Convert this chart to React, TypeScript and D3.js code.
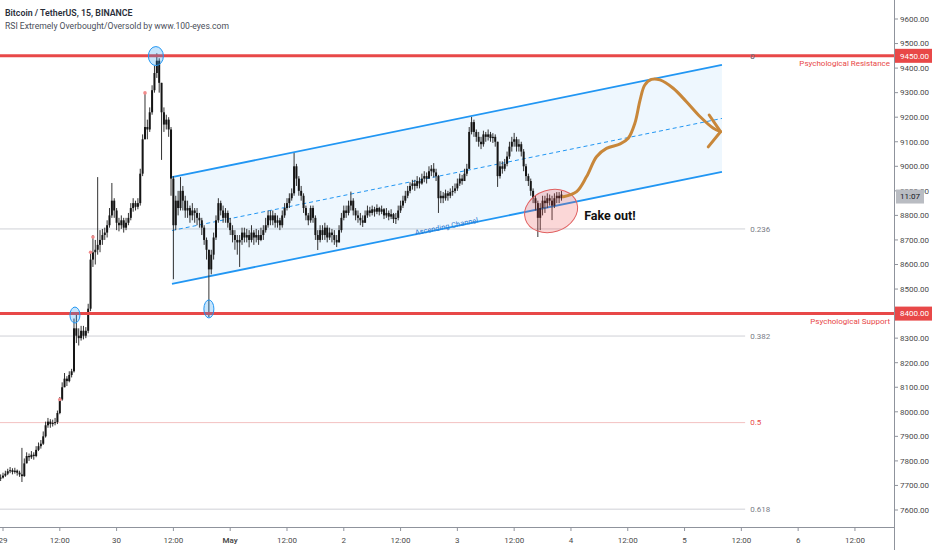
import React from "react";
import * as d3 from "d3";

const title = "Bitcoin / TetherUS, 15, BINANCE";
const subtitle = "RSI Extremely Overbought/Oversold by www.100-eyes.com";

// 30-minute bars, index -1 .. 236, hours measured from Apr 29 00:00
const firstBar = -1;
const barHours = 0.5;
const firstOpen = 7728;
const closes = [
  7732, 7740, 7748, 7758, 7762, 7755, 7760, 7752, 7745, 7738,
  7790, 7820, 7815, 7825, 7820, 7845, 7860, 7870, 7900, 7945,
  7960, 7950, 7955, 7958, 7995, 8050, 8100, 8135, 8125, 8150,
  8165, 8340, 8310, 8300, 8330, 8310, 8330, 8420, 8620, 8650,
  8660, 8680, 8700, 8720, 8730, 8760, 8800, 8860, 8820, 8770,
  8760, 8780, 8750, 8770, 8790, 8830, 8850, 8835, 8850, 8970,
  9110, 9160, 9150, 9220, 9310, 9380, 9430, 9340, 9220, 9170,
  9190, 9150, 8950, 8760, 8860, 8830, 8900, 8860, 8820, 8830,
  8800, 8820, 8810, 8790, 8780, 8750, 8700, 8660, 8580, 8640,
  8710, 8780, 8850, 8820, 8790, 8810, 8770, 8740, 8720, 8700,
  8690, 8700, 8730, 8710, 8720, 8700, 8730, 8710, 8720, 8700,
  8720, 8740, 8760, 8800, 8780, 8800, 8770, 8780, 8760, 8800,
  8830, 8850, 8870, 8890, 9000, 8950, 8900, 8880, 8830, 8800,
  8780, 8830, 8790, 8720, 8700, 8740, 8720, 8750, 8710, 8730,
  8720, 8700, 8690, 8740, 8790, 8820, 8810, 8840, 8860, 8820,
  8800, 8790, 8780, 8770, 8800, 8820, 8810, 8825, 8815, 8830,
  8815, 8825, 8800, 8810, 8795, 8805, 8785, 8790, 8820, 8840,
  8860, 8880, 8900, 8920, 8930, 8920, 8940, 8930, 8950, 8960,
  8950, 8980, 8990, 8975, 8960, 8870, 8880, 8870, 8890, 8880,
  8895, 8900, 8910, 8930, 8950, 8940, 8970, 8990, 9140, 9180,
  9140, 9120, 9100, 9090, 9130, 9120, 9130, 9115, 9120, 9100,
  8960, 9000, 8990, 9010, 9040, 9080, 9100, 9110, 9080, 9090,
  9060, 9000, 8960, 8940, 8900, 8870, 8850, 8790, 8830, 8860,
  8850, 8870, 8860, 8840, 8870, 8880, 8870, 8885,
];
const highs = [
  7745, 7752, 7760, 7768, 7775, 7770, 7772, 7765, 7760, 7853,
  7810, 7835, 7830, 7840, 7835, 7860, 7875, 7885, 7920, 7960,
  7975, 7970, 7968, 7975, 8005, 8060, 8120, 8158, 8145, 8165,
  8175, 8380, 8403, 8340, 8350, 8350, 8345, 8440, 8650, 8720,
  8700, 8956, 8740, 8745, 8750, 8780, 8830, 8932, 8870, 8830,
  8790, 8800, 8790, 8790, 8810, 8850, 8870, 8860, 8870, 8990,
  9130, 9299, 9190, 9240, 9330, 9410, 9460, 9440, 9340, 9240,
  9210, 9200, 9160, 8960, 8880, 8900, 8956, 8920, 8880, 8860,
  8840, 8850, 8830, 8830, 8810, 8790, 8760, 8710, 8660, 8660,
  8730, 8800, 8870, 8860, 8840, 8830, 8820, 8790, 8760, 8740,
  8720, 8720, 8750, 8750, 8745, 8740, 8760, 8740, 8745, 8740,
  8750, 8760, 8790, 8820, 8820, 8820, 8810, 8800, 8790, 8820,
  8850, 8870, 8890, 8910, 9054, 9010, 8960, 8920, 8890, 8840,
  8810, 8840, 8840, 8800, 8740, 8760, 8760, 8770, 8760, 8750,
  8745, 8740, 8720, 8760, 8810, 8840, 8840, 8860, 8897, 8870,
  8830, 8820, 8810, 8800, 8820, 8840, 8835, 8840, 8835, 8845,
  8835, 8840, 8830, 8830, 8820, 8825, 8810, 8810, 8840, 8860,
  8880, 8900, 8920, 8935, 8945, 8945, 8960, 8955, 8970, 8980,
  8975, 9000, 9005, 9013, 8990, 8965, 8900, 8895, 8905, 8900,
  8910, 8920, 8930, 8950, 8970, 8965, 8990, 9010, 9160, 9201,
  9190, 9150, 9140, 9120, 9145, 9140, 9150, 9140, 9135, 9130,
  9100, 9020, 9020, 9030, 9060, 9100, 9120, 9136, 9120, 9110,
  9100, 9070, 9010, 8970, 8950, 8910, 8880, 8860, 8850, 8880,
  8880, 8890, 8885, 8880, 8890, 8895, 8895, 8900,
];
const lows = [
  7718, 7728, 7735, 7742, 7750, 7745, 7748, 7740, 7735, 7714,
  7735, 7795, 7800, 7808, 7805, 7815, 7840, 7850, 7865, 7895,
  7935, 7935, 7940, 7945, 7950, 7990, 8045, 8110, 8105, 8120,
  8140, 8160, 8280, 8270, 8290, 8295, 8300, 8320, 8410, 8590,
  8600, 8640, 8650, 8680, 8700, 8710, 8750, 8790, 8790, 8740,
  8735, 8745, 8730, 8740, 8760, 8780, 8815, 8820, 8825, 8840,
  8960, 9120, 9110, 9140, 9210, 9300, 9360, 9300, 9026, 9140,
  9150, 9120, 8880, 8540, 8740, 8800, 8820, 8820, 8790, 8790,
  8770, 8780, 8770, 8760, 8750, 8720, 8680, 8620, 8386, 8560,
  8620, 8700, 8770, 8800, 8770, 8770, 8750, 8720, 8690, 8660,
  8640, 8590, 8680, 8690, 8690, 8670, 8690, 8680, 8690, 8680,
  8695, 8700, 8730, 8750, 8760, 8760, 8750, 8750, 8740, 8750,
  8790, 8820, 8830, 8860, 8880, 8920, 8880, 8860, 8810, 8780,
  8760, 8770, 8770, 8700, 8659, 8690, 8700, 8700, 8690, 8700,
  8690, 8680, 8671, 8690, 8730, 8780, 8790, 8800, 8820, 8800,
  8780, 8770, 8760, 8753, 8770, 8790, 8795, 8800, 8795, 8805,
  8800, 8805, 8785, 8790, 8780, 8785, 8769, 8765, 8780, 8810,
  8830, 8850, 8870, 8890, 8905, 8900, 8910, 8910, 8925, 8935,
  8930, 8950, 8960, 8955, 8940, 8810, 8850, 8850, 8860, 8860,
  8870, 8880, 8890, 8900, 8920, 8925, 8940, 8960, 8990, 9130,
  9120, 9100, 9080, 9070, 9080, 9100, 9105, 9100, 9095, 9080,
  8916, 8950, 8970, 8980, 9000, 9030, 9060, 9080, 9060, 9060,
  9040, 8980, 8940, 8920, 8880, 8850, 8820, 8712, 8740, 8800,
  8810, 8830, 8840, 8781, 8830, 8850, 8850, 8860,
];

// RSI extreme markers
const markerBars = [24, 37, 38, 60];
const markerPrices = [8050, 8650, 8712, 9299];

// axes
const priceTicks = d3.range(7600, 9601, 100);
const timeTickHours = [0, 12, 24, 36, 48, 60, 72, 84, 96, 108, 120, 132, 144, 156, 168, 180];
const timeTickLabels = ["29", "12:00", "30", "12:00", "May", "12:00", "2", "12:00", "3", "12:00", "4", "12:00", "5", "12:00", "6", "12:00"];

// horizontal levels
const resistance = 9450;
const support = 8400;
const resistanceLabel = "Psychological Resistance";
const supportLabel = "Psychological Support";

// fibonacci retracement
const fibHigh = 9450;
const fibLow = 6462;
const fibLevels = [0, 0.236, 0.382, 0.5, 0.618];
const fibEndHour = 156.8;

// ascending channel
const channelHours = [35.7, 151.9];
const channelUpper = [8956, 9413];
const channelLower = [8521, 8977];
const channelLabel = "Ascending Channel";
const channelLabelHour = 93.8;
const channelLabelPrice = 8745;

// projected path
const curveHours = [118.4, 121.2, 123.3, 125.4, 127.5, 130.4, 132.1, 133.5, 134.6, 135.6, 137.0, 138.8, 141.6, 144.4, 147.3, 150.1, 151.6];
const curvePrices = [8876, 8897, 8958, 9039, 9073, 9091, 9114, 9175, 9270, 9331, 9354, 9352, 9318, 9263, 9202, 9155, 9141];
const arrowHours = [149.2, 151.6, 149.0];
const arrowPrices = [9209, 9141, 9079];

// highlighted touches
const circleHours = [32.3, 43.5, 15.2];
const circlePrices = [9449, 8419, 8394];
const fakeHour = 115.8;
const fakePrice = 8818;
const fakeLabel = "Fake out!";
const fakeLabelHour = 122.8;
const fakeLabelPrice = 8781;
const countdown = "11:07";

const W = 932;
const H = 550;
const plotRight = 894;
const plotBottom = 527;
const FONT = "Roboto, 'Noto Sans', Arial, sans-serif";
const RED = "#e84848";
const BLUE = "#2196f3";

export default function App() {
  const x = d3.scaleLinear().domain([-0.634, 188.25]).range([0, plotRight]);
  const y = d3.scaleLinear().domain([7600, 9600]).range([510, 19]);

  const bars = closes.map((c, k) => {
    const open = k === 0 ? firstOpen : closes[k - 1];
    const hi = Math.max(highs[k], open, c);
    const lo = Math.min(lows[k], open, c);
    const t = (firstBar + k) * barHours;
    return { t, open, close: c, hi, lo };
  });

  const bodyW = 2;
  const line = d3.line<number>().x((_, i) => x(curveHours[i])).y((p) => y(p)).curve(d3.curveCatmullRom.alpha(0.5));
  const arrowLine = d3.line<number>().x((_, i) => x(arrowHours[i])).y((p) => y(p));

  const cx0 = x(channelHours[0]);
  const cx1 = x(channelHours[1]);
  const channelPoly = [
    [cx0, y(channelUpper[0])],
    [cx1, y(channelUpper[1])],
    [cx1, y(channelLower[1])],
    [cx0, y(channelLower[0])],
  ];
  const midY0 = (y(channelUpper[0]) + y(channelLower[0])) / 2;
  const midY1 = (y(channelUpper[1]) + y(channelLower[1])) / 2;
  const angle = (Math.atan2(y(channelLower[1]) - y(channelLower[0]), cx1 - cx0) * 180) / Math.PI;

  const lastClose = closes[closes.length - 1];

  return (
    <svg width={W} height={H} style={{ position: "absolute", left: 0, top: 0, background: "#fff" }} fontFamily={FONT}>
      <rect x={0} y={0} width={W} height={H} fill="#fff" />

      {/* fib levels */}
      {fibLevels.map((lv) => {
        const p = fibHigh - (fibHigh - fibLow) * lv;
        const isHalf = lv === 0.5;
        return (
          <g key={lv}>
            <line x1={0} x2={x(fibEndHour)} y1={y(p)} y2={y(p)} stroke={isHalf ? "#f3c2c2" : "#cfd1d6"} strokeWidth={1} />
            <text x={x(fibEndHour) + 5} y={y(p)} dy="0.35em" fontSize={8} fill={isHalf ? RED : "#787b86"}>
              {String(lv)}
            </text>
          </g>
        );
      })}

      {/* channel */}
      <polygon points={channelPoly.map((d) => d.join(",")).join(" ")} fill="rgba(33,150,243,0.08)" />
      <line x1={cx0} x2={cx1} y1={y(channelUpper[0])} y2={y(channelUpper[1])} stroke={BLUE} strokeWidth={1.8} />
      <line x1={cx0} x2={cx1} y1={y(channelLower[0])} y2={y(channelLower[1])} stroke={BLUE} strokeWidth={1.8} />
      <line x1={cx0} x2={cx1} y1={midY0} y2={midY1} stroke={BLUE} strokeWidth={1} strokeDasharray="4,3" />
      <text
        x={x(channelLabelHour)}
        y={y(channelLabelPrice)}
        fontSize={7.5}
        fill="#2a7bd4"
        textAnchor="middle"
        transform={`rotate(${angle} ${x(channelLabelHour)} ${y(channelLabelPrice)})`}
      >
        {channelLabel}
      </text>

      {/* candles */}
      <g>
        {bars.map((b, k) => {
          const cx = x(b.t);
          const top = y(Math.max(b.open, b.close));
          const bot = y(Math.min(b.open, b.close));
          return (
            <g key={k}>
              <line x1={cx} x2={cx} y1={y(b.hi)} y2={y(b.lo)} stroke="#333" strokeWidth={1} />
              <rect x={cx - bodyW / 2} y={top} width={bodyW} height={Math.max(1, bot - top)} fill="#151515" />
            </g>
          );
        })}
      </g>
      {markerBars.map((m, k) => (
        <circle key={k} cx={x(m * barHours)} cy={y(markerPrices[k])} r={1.8} fill="#f28b8b" />
      ))}

      {/* psychological levels */}
      <line x1={0} x2={plotRight} y1={y(resistance)} y2={y(resistance)} stroke={RED} strokeWidth={3} />
      <line x1={0} x2={plotRight} y1={y(support)} y2={y(support)} stroke={RED} strokeWidth={3} />
      <text x={plotRight - 4} y={y(resistance) + 10} fontSize={8} fill={RED} textAnchor="end">{resistanceLabel}</text>
      <text x={plotRight - 4} y={y(support) + 10} fontSize={8} fill={RED} textAnchor="end">{supportLabel}</text>
      <text x={x(fibEndHour) + 5} y={y(fibHigh)} dy="0.35em" fontSize={8} fill="#787b86">0</text>

      {/* touch circles */}
      {circleHours.map((h, k) => (
        <ellipse
          key={k}
          cx={x(h)}
          cy={y(circlePrices[k])}
          rx={k === 0 ? 7.5 : 5}
          ry={k === 0 ? 9.5 : k === 1 ? 9 : 8}
          fill="rgba(33,150,243,0.25)"
          stroke={BLUE}
          strokeWidth={1}
        />
      ))}

      {/* fake out */}
      <ellipse
        cx={x(fakeHour)}
        cy={y(fakePrice)}
        rx={27}
        ry={21}
        transform={`rotate(-18 ${x(fakeHour)} ${y(fakePrice)})`}
        fill="rgba(236,75,75,0.22)"
        stroke="#e06060"
        strokeWidth={1}
      />
      <text x={x(fakeLabelHour)} y={y(fakeLabelPrice)} fontSize={12.5} fontWeight={700} fill="#111">{fakeLabel}</text>

      {/* projection */}
      <path d={line(curvePrices) || ""} fill="none" stroke="#c8873a" strokeWidth={3} strokeLinecap="round" />
      <path d={arrowLine(arrowPrices) || ""} fill="none" stroke="#c8873a" strokeWidth={3} strokeLinecap="round" strokeLinejoin="round" />

      {/* title */}
      <text x={5} y={16} fontSize={8.8} fontWeight={600} fill="#2a2e39">{title}</text>
      <text x={5} y={29} fontSize={8.6} fill="#4a4e59">{subtitle}</text>

      {/* right axis */}
      <rect x={plotRight} y={0} width={W - plotRight} height={H} fill="#fff" />
      <line x1={plotRight + 0.5} x2={plotRight + 0.5} y1={0} y2={H} stroke="#8f939c" strokeWidth={1} />
      {priceTicks.map((p) => (
        <g key={p}>
          <line x1={plotRight} x2={plotRight + 4} y1={y(p)} y2={y(p)} stroke="#8f939c" />
          <text x={plotRight + 6} y={y(p)} dy="0.35em" fontSize={8} fill="#4a4a4a">{p.toFixed(2)}</text>
        </g>
      ))}
      {[resistance, support].map((p) => (
        <g key={p}>
          <rect x={plotRight + 1} y={y(p) - 7} width={W - plotRight - 1} height={14} fill={RED} />
          <text x={plotRight + 6} y={y(p)} dy="0.35em" fontSize={8} fill="#fff">{p.toFixed(2)}</text>
        </g>
      ))}
      <rect x={plotRight + 2} y={y(lastClose) - 5} width={28} height={14} fill="#b9bcc2" />
      <text x={plotRight + 6} y={y(lastClose) + 2} dy="0.35em" fontSize={8} fill="#131722">{countdown}</text>

      {/* bottom axis */}
      <rect x={0} y={plotBottom} width={plotRight} height={H - plotBottom} fill="#fff" />
      <line x1={0} x2={plotRight} y1={plotBottom + 0.5} y2={plotBottom + 0.5} stroke="#8f939c" strokeWidth={1} />
      {timeTickHours.map((h, k) => (
        <g key={h}>
          <line x1={x(h)} x2={x(h)} y1={plotBottom} y2={plotBottom + 4} stroke="#8f939c" />
          <text
            x={x(h)}
            y={540}
            dy="0.35em"
            fontSize={8}
            textAnchor="middle"
            fill="#4a4a4a"
            fontWeight={timeTickLabels[k] === "May" ? 600 : 400}
          >
            {timeTickLabels[k]}
          </text>
        </g>
      ))}
    </svg>
  );
}
